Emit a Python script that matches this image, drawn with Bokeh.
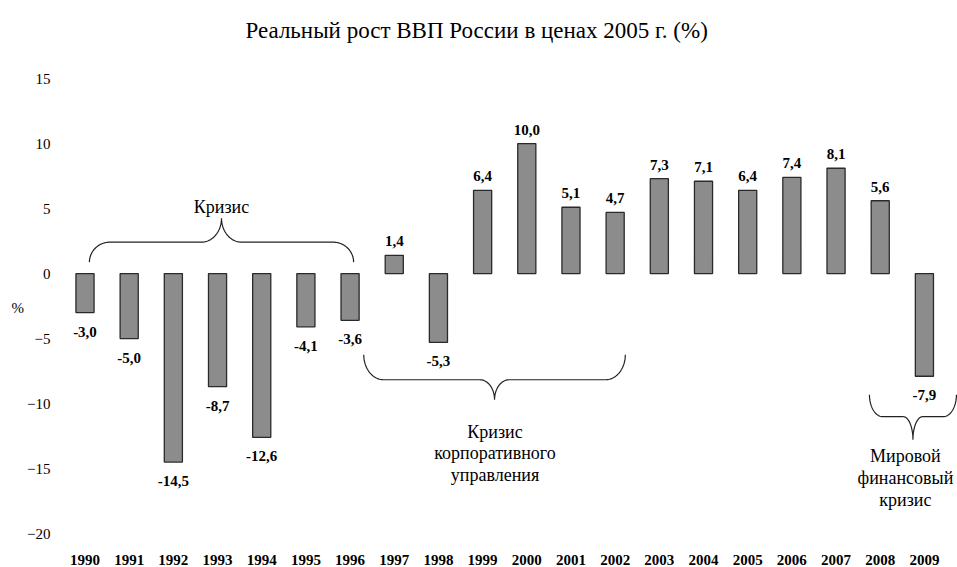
import numpy as np
from bokeh.plotting import figure
from bokeh.models import FixedTicker, Range1d, ColumnDataSource
from bokeh.core.properties import value
from bokeh.embed import file_html
from bokeh.resources import INLINE

# ---------------- data ----------------
years = list(range(1990, 2010))
growth = [-3.0, -5.0, -14.5, -8.7, -12.6, -4.1, -3.6, 1.4, -5.3, 6.4,
          10.0, 5.1, 4.7, 7.3, 7.1, 6.4, 7.4, 8.1, 5.6, -7.9]
y_ticks = [-20, -15, -10, -5, 0, 5, 10, 15]
title_text = "Реальный рост ВВП России в ценах 2005 г. (%)"
y_unit = "%"
crisis_1_lines = ["Кризис"]
crisis_2_lines = ["Кризис", "корпоративного", "управления"]
crisis_3_lines = ["Мировой", "финансовый", "кризис"]

# ---------------- style ----------------
FONT = "Liberation Serif"
BAR_FILL = "#8c8c8c"
BAR_LINE = "#2a2a2a"

p = figure(width=957, height=567, output_backend="svg", toolbar_location=None,
           x_range=Range1d(1989.4455, 2009.749), y_range=Range1d(-20.38, 16.62),
           min_border_left=60, min_border_right=0, min_border_top=57, min_border_bottom=28,
           title=title_text)
p.outline_line_color = None
p.xgrid.visible = False
p.ygrid.visible = False
p.background_fill_color = "white"
p.border_fill_color = "white"

p.title.text_font = FONT
p.title.text_font_size = "23px"
p.title.text_font_style = "normal"
p.title.align = "left"
p.title.offset = 185
p.title.standoff = 30
p.title.text_color = "black"

for ax in (p.xaxis[0], p.yaxis[0]):
    ax.axis_line_color = None
    ax.major_tick_line_color = None
    ax.minor_tick_line_color = None
    ax.major_tick_out = 0
    ax.major_tick_in = 0
    ax.major_label_text_font = FONT
    ax.major_label_text_color = "black"
    ax.major_label_text_font_size = "15px"

p.xaxis.ticker = FixedTicker(ticks=years)
p.xaxis.major_label_text_font_style = "bold"
p.xaxis.major_label_standoff = 16

p.yaxis.ticker = FixedTicker(ticks=y_ticks)
p.yaxis.major_label_standoff = 10
# unit label sits half a line below the middle of the frame, as in the original
p.yaxis.axis_label = "\n" + y_unit
p.yaxis.axis_label_orientation = "horizontal"
p.yaxis.axis_label_text_font = FONT
p.yaxis.axis_label_text_font_style = "normal"
p.yaxis.axis_label_text_font_size = "15px"
p.yaxis.axis_label_standoff = 0
p.yaxis.axis_label_text_color = "black"

# ---------------- bars ----------------
src = ColumnDataSource(dict(x=years, top=growth))
p.vbar(x="x", top="top", bottom=0, width=0.41, source=src,
       fill_color=BAR_FILL, line_color=BAR_LINE, line_width=1.3)

# value labels
fmt = lambda v: f"{v:.1f}".replace(".", ",")
pos = [(x, v) for x, v in zip(years, growth) if v >= 0]
neg = [(x, v) for x, v in zip(years, growth) if v < 0]
p.text(x=[a for a, _ in pos], y=[b for _, b in pos], text=[fmt(b) for _, b in pos],
       text_font=value(FONT), text_font_size="15px", text_font_style="bold",
       text_align="center", text_baseline="middle", y_offset=-14, text_color="black")
p.text(x=[a for a, _ in neg], y=[b for _, b in neg], text=[fmt(b) for _, b in neg],
       text_font=value(FONT), text_font_size="15px", text_font_style="bold",
       text_align="center", text_baseline="middle", y_offset=19, text_color="black")

# ---------------- braces ----------------
def brace(x0, x1, y_end, y_flat, y_tip, r1, r2):
    xm = (x0 + x1) / 2
    t = np.linspace(0, np.pi / 2, 24)
    ax_ = x0 + r1 - r1 * np.cos(t); ay = y_end + (y_flat - y_end) * np.sin(t)
    bx = xm - r2 + r2 * np.sin(t);  by = y_tip + (y_flat - y_tip) * np.cos(t)
    cx = xm + r2 * (1 - np.cos(t)); cy = y_tip + (y_flat - y_tip) * np.sin(t)
    dx = x1 - r1 + r1 * np.sin(t);  dy = y_end + (y_flat - y_end) * np.cos(t)
    return np.concatenate([ax_, bx, cx, dx]), np.concatenate([ay, by, cy, dy])

braces = [
    brace(1990.10, 1996.08, 0.88, 2.42, 4.26, 0.47, 0.45),
    brace(1996.31, 2002.23, -6.25, -8.17, -9.71, 0.45, 0.33),
    brace(2007.756, 2009.725, -9.32, -11.01, -12.78, 0.30, 0.22),
]
for bx_, by_ in braces:
    p.line(bx_, by_, line_color="#222222", line_width=1.2)

def lines_text(lines, x, y0, step):
    p.text(x=[x] * len(lines), y=[y0 - i * step for i in range(len(lines))], text=lines,
           text_font=value(FONT), text_font_size="18px", text_align="center",
           text_baseline="middle", text_color="black")

lines_text(crisis_1_lines, 1993.09, 5.1, 1.7)
lines_text(crisis_2_lines, 1999.28, -12.17, 1.67)
lines_text(crisis_3_lines, 2008.57, -14.01, 1.69)

open("out.html", "w").write(file_html(p, INLINE))
